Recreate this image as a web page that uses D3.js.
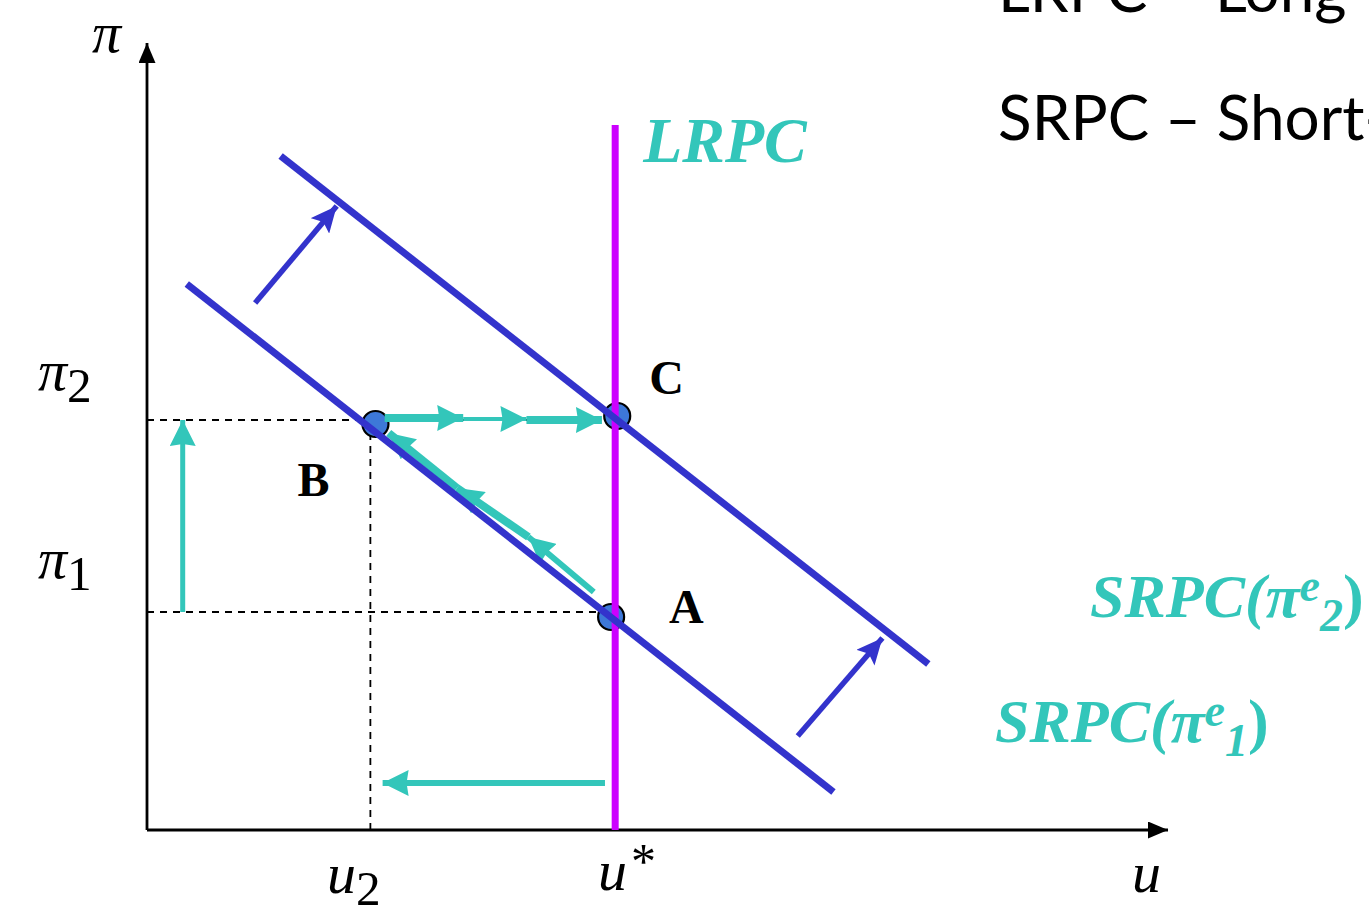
<!DOCTYPE html>
<html>
<head>
<meta charset="utf-8">
<script src="https://cdn.jsdelivr.net/npm/d3@7"></script>
<style>
  body { margin: 0; background: #fff; overflow: hidden; }
  svg { display: block; }
</style>
</head>
<body>
<svg id="chart" width="1369" height="908"></svg>
<script>
// values in diagram units (u across, pi up)
const uStar = 4.59;
const u2 = 2.19;
const pi1 = 2.18;
const pi2 = 4.10;
const axisEnd = [10.01, 7.87];

const srpcLines = [
  {name: 'SRPC1', from: [0.39, 5.46], to: [6.73, 0.38]},
  {name: 'SRPC2', from: [1.31, 6.74], to: [7.66, 1.66]}
];
const lrpcTop = 7.05;

const points = [
  {name: 'A', at: [4.55, 2.13]},
  {name: 'B', at: [2.24, 4.06]},
  {name: 'C', at: [4.61, 4.14]}
];

// shift arrows of the curve
const shiftArrows = [
  {from: [1.06, 5.27], to: [1.86, 6.24]},
  {from: [6.38, 0.94], to: [7.21, 1.92]}
];

// teal path arrows [from, to, stroke width]
const pathArrows = [
  {from: [0.35, pi1], to: [0.35, 4.10], w: 5},
  {from: [4.49, 0.47], to: [2.31, 0.47], w: 6},
  {from: [2.33, 4.12], to: [3.10, 4.12], w: 8},
  {from: [3.10, 4.11], to: [3.72, 4.11], w: 4},
  {from: [3.72, 4.10], to: [4.46, 4.10], w: 8},
  {from: [4.38, 2.38], to: [3.74, 2.93], w: 6},
  {from: [3.74, 2.93], to: [3.04, 3.42], w: 8},
  {from: [3.04, 3.42], to: [2.37, 3.97], w: 8}
];

const x = d3.scaleLinear().domain([0, 10]).range([147, 1167]);
const y = d3.scaleLinear().domain([0, 8]).range([830, 30]);

const teal = '#33c6ba';
const blue = '#3333cc';
const magenta = '#cc00ff';

const svg = d3.select('svg#chart');
const defs = svg.append('defs');

function marker(id, color, len, wid, notch) {
  defs.append('marker')
    .attr('id', id)
    .attr('markerUnits', 'userSpaceOnUse')
    .attr('viewBox', `0 ${-wid / 2} ${len} ${wid}`)
    .attr('refX', len)
    .attr('refY', 0)
    .attr('markerWidth', len)
    .attr('markerHeight', wid)
    .attr('orient', 'auto')
    .append('path')
    .attr('d', `M0,${-wid / 2}L${len},0L0,${wid / 2}L${len * notch},0Z`)
    .attr('fill', color);
}
marker('ax', '#000', 20, 17, 0);
marker('tl', teal, 26, 26, 0.08);
marker('bl', blue, 26, 24, 0.2);

// axes
svg.append('line')
  .attr('x1', x(0)).attr('y1', y(0)).attr('x2', x(0)).attr('y2', y(axisEnd[1]))
  .attr('stroke', '#000').attr('stroke-width', 2.8).attr('marker-end', 'url(#ax)');
svg.append('line')
  .attr('x1', x(0)).attr('y1', y(0)).attr('x2', x(axisEnd[0])).attr('y2', y(0))
  .attr('stroke', '#000').attr('stroke-width', 2.8).attr('marker-end', 'url(#ax)');

// dashed guides
const guides = [
  [[0, pi2], [3.75, pi2]],
  [[0, pi1], [uStar, pi1]],
  [[u2, pi2], [u2, 0]]
];
svg.selectAll('line.guide').data(guides).enter()
  .append('line')
  .attr('class', 'guide')
  .attr('x1', d => x(d[0][0])).attr('y1', d => y(d[0][1]))
  .attr('x2', d => x(d[1][0])).attr('y2', d => y(d[1][1]))
  .attr('stroke', '#000').attr('stroke-width', 1.8)
  .attr('stroke-dasharray', '7,6');

// equilibrium points
svg.selectAll('circle.pt').data(points).enter()
  .append('circle')
  .attr('class', 'pt')
  .attr('cx', d => x(d.at[0])).attr('cy', d => y(d.at[1]))
  .attr('r', 13)
  .attr('fill', '#3d78d8')
  .attr('stroke', '#000').attr('stroke-width', 2.2);

// teal path arrows
svg.selectAll('line.path').data(pathArrows).enter()
  .append('line')
  .attr('class', 'path')
  .attr('x1', d => x(d.from[0])).attr('y1', d => y(d.from[1]))
  .attr('x2', d => x(d.to[0])).attr('y2', d => y(d.to[1]))
  .attr('stroke', teal).attr('stroke-width', d => d.w)
  .attr('marker-end', 'url(#tl)');

// LRPC
svg.append('line')
  .attr('x1', x(uStar)).attr('y1', y(0)).attr('x2', x(uStar)).attr('y2', y(lrpcTop))
  .attr('stroke', magenta).attr('stroke-width', 7);

// SRPC lines
svg.selectAll('line.srpc').data(srpcLines).enter()
  .append('line')
  .attr('class', 'srpc')
  .attr('x1', d => x(d.from[0])).attr('y1', d => y(d.from[1]))
  .attr('x2', d => x(d.to[0])).attr('y2', d => y(d.to[1]))
  .attr('stroke', blue).attr('stroke-width', 7);

// shift arrows
svg.selectAll('line.shift').data(shiftArrows).enter()
  .append('line')
  .attr('class', 'shift')
  .attr('x1', d => x(d.from[0])).attr('y1', d => y(d.from[1]))
  .attr('x2', d => x(d.to[0])).attr('y2', d => y(d.to[1]))
  .attr('stroke', blue).attr('stroke-width', 5.5)
  .attr('marker-end', 'url(#bl)');

// labels
const serif = '"Liberation Serif", "Times New Roman", serif';

function mathLabel(px, py, base, sub, size) {
  const t = svg.append('text')
    .attr('x', px).attr('y', py)
    .attr('font-family', serif).attr('font-size', size)
    .attr('fill', '#000');
  t.append('tspan').attr('font-style', 'italic').text(base);
  if (sub) t.append('tspan').attr('dy', size * 0.2).attr('font-size', size * 0.85).text(sub);
  return t;
}
mathLabel(92, 52, 'π', null, 58);
mathLabel(38, 390, 'π', '2', 58);
mathLabel(38, 578, 'π', '1', 58);
mathLabel(327, 893, 'u', '2', 58);
mathLabel(1132, 892, 'u', null, 58);
const us = mathLabel(598, 890, 'u', null, 58);
us.append('tspan').attr('dy', -12).attr('dx', 4).attr('font-size', 50).text('*');

svg.selectAll('text.pt').data(points).enter()
  .append('text')
  .attr('class', 'pt')
  .attr('x', d => d.name === 'B' ? x(d.at[0]) - 78 : x(d.at[0]) + (d.name === 'A' ? 58 : 32))
  .attr('y', d => d.name === 'B' ? y(d.at[1]) + 72 : (d.name === 'A' ? y(d.at[1]) + 6 : y(d.at[1]) - 22))
  .attr('font-family', serif).attr('font-weight', 'bold').attr('font-size', 48)
  .attr('fill', '#000')
  .text(d => d.name);

svg.append('text')
  .attr('x', x(uStar) + 28).attr('y', y(lrpcTop) + 37)
  .attr('font-family', serif).attr('font-weight', 'bold').attr('font-style', 'italic')
  .attr('font-size', 64).attr('fill', teal)
  .text('LRPC');

function srpcLabel(px, py, sub) {
  const t = svg.append('text')
    .attr('x', px).attr('y', py)
    .attr('font-family', serif).attr('font-weight', 'bold').attr('font-style', 'italic')
    .attr('font-size', 62).attr('fill', teal);
  t.append('tspan').text('SRPC(π');
  t.append('tspan').attr('dy', -16).attr('font-size', 46).text('e');
  t.append('tspan').attr('dy', 30).attr('font-size', 46).text(sub);
  t.append('tspan').attr('dy', -14).attr('font-style', 'normal').text(')');
}
srpcLabel(1090, 617, '2');
srpcLabel(995, 742, '1');

const sans = 'Lato, "Open Sans", sans-serif';
svg.append('text')
  .attr('x', 998).attr('y', 12)
  .attr('font-family', sans).attr('font-size', 62).attr('fill', '#000')
  .text('LRPC – Long-run Phillips Curve');
svg.append('text')
  .attr('x', 998).attr('y', 140)
  .attr('font-family', sans).attr('font-size', 62).attr('fill', '#000')
  .text('SRPC – Short-run Phillips Curve');
</script>
</body>
</html>
